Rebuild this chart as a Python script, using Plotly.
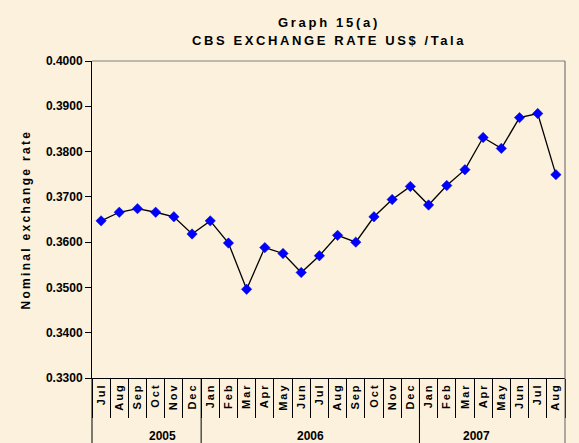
import plotly.graph_objects as go

years = ["2005"] * 6 + ["2006"] * 12 + ["2007"] * 8
months = ["Jul", "Aug", "Sep", "Oct", "Nov", "Dec",
          "Jan", "Feb", "Mar", "Apr", "May", "Jun", "Jul", "Aug", "Sep", "Oct", "Nov", "Dec",
          "Jan", "Feb", "Mar", "Apr", "May", "Jun", "Jul", "Aug"]
rates = [0.3647, 0.3666, 0.3674, 0.3666, 0.3656, 0.3618,
         0.3647, 0.3598, 0.3496, 0.3588, 0.3575, 0.3533, 0.3570, 0.3615, 0.3600, 0.3656, 0.3694, 0.3723,
         0.3682, 0.3725, 0.3760, 0.3831, 0.3807, 0.3875, 0.3884, 0.3749]
y_ticks = [0.33, 0.34, 0.35, 0.36, 0.37, 0.38, 0.39, 0.40]
title_lines = ["Graph 15(a)", "CBS EXCHANGE RATE US$ /Tala"]
y_title = "Nominal exchange rate"

cats = [f"{m} {y}" for m, y in zip(months, years)]
n = len(cats)

BG = "#FBF1DC"
FONT = "Arial, Liberation Sans, sans-serif"

fig = go.Figure()
fig.add_trace(go.Scatter(
    x=cats, y=rates, mode="lines+markers",
    line=dict(color="black", width=1.3),
    marker=dict(symbol="diamond", color="#0000FF", size=8, line=dict(color="#0000CC", width=0.5)),
    showlegend=False,
))

shapes = []
shapes.append(dict(type="line", xref="paper", yref="paper", x0=0, x1=1, y0=1, y1=1,
                   line=dict(color="#808080", width=1)))
shapes.append(dict(type="line", xref="paper", yref="paper", x0=1, x1=1, y0=1, y1=-0.22,
                   line=dict(color="#606060", width=1)))
shapes.append(dict(type="line", xref="paper", yref="paper", x0=0, x1=0, y0=0, y1=-0.22,
                   line=dict(color="black", width=1)))

annotations = []
groups = []
for i, y in enumerate(years):
    if not groups or groups[-1][0] != y:
        groups.append([y, i, i])
    else:
        groups[-1][2] = i
for gi, (y, s, e) in enumerate(groups):
    if gi > 0:
        xb = s / n
        shapes.append(dict(type="line", xref="paper", yref="paper", x0=xb, x1=xb, y0=0, y1=-0.22,
                           line=dict(color="black", width=1)))
    annotations.append(dict(xref="paper", yref="paper", x=(s + e + 1) / 2 / n, y=-0.183,
                            text=f"<b>{y}</b>", showarrow=False, yanchor="middle",
                            font=dict(size=12, family=FONT, color="black")))

annotations.append(dict(xref="paper", yref="paper", x=0.5, y=1.123, yanchor="middle",
                        showarrow=False,
                        text=f"<span style='letter-spacing:2.7px'><b>{title_lines[0]}</b></span>",
                        font=dict(size=13, family=FONT, color="black")))
annotations.append(dict(xref="paper", yref="paper", x=0.5, y=1.066, yanchor="middle",
                        showarrow=False,
                        text=f"<span style='letter-spacing:2.6px'><b>{title_lines[1]}</b></span>",
                        font=dict(size=13, family=FONT, color="black")))
annotations.append(dict(xref="paper", yref="paper", x=-0.1416, y=0.5, xanchor="center",
                        yanchor="middle", textangle=-90, showarrow=False,
                        text=f"<span style='letter-spacing:2.3px'><b>{y_title}</b></span>",
                        font=dict(size=12, family=FONT, color="black")))

fig.update_layout(
    width=579, height=443,
    margin=dict(l=92, r=14, t=61, b=65),
    paper_bgcolor=BG, plot_bgcolor=BG,
    font=dict(family=FONT, color="black"),
    xaxis=dict(
        type="category", categoryorder="array", categoryarray=cats,
        tickmode="array", tickvals=cats,
        ticktext=[f"<span style='letter-spacing:2px'>{m}</span>" for m in months],
        tickson="boundaries", ticks="outside", ticklen=39, tickcolor="black", tickwidth=1,
        tickangle=-90, tickfont=dict(size=11, family=FONT, weight="bold"),
        showline=True, linecolor="black", linewidth=1, showgrid=False, zeroline=False,
        range=[-0.5, n - 0.5],
    ),
    yaxis=dict(
        range=[0.33, 0.40], tickmode="array", tickvals=y_ticks,
        ticktext=[f"{v:.4f}" for v in y_ticks],
        ticks="outside", ticklen=6, tickcolor="black",
        tickfont=dict(size=12, family=FONT, weight="bold"),
        showline=True, linecolor="black", linewidth=1, showgrid=False, zeroline=False,
    ),
    shapes=shapes, annotations=annotations,
)

fig.write_html("out.html", config={"displayModeBar": False},
               post_script="document.body.style.margin='0';document.body.style.background='" + BG + "';")
